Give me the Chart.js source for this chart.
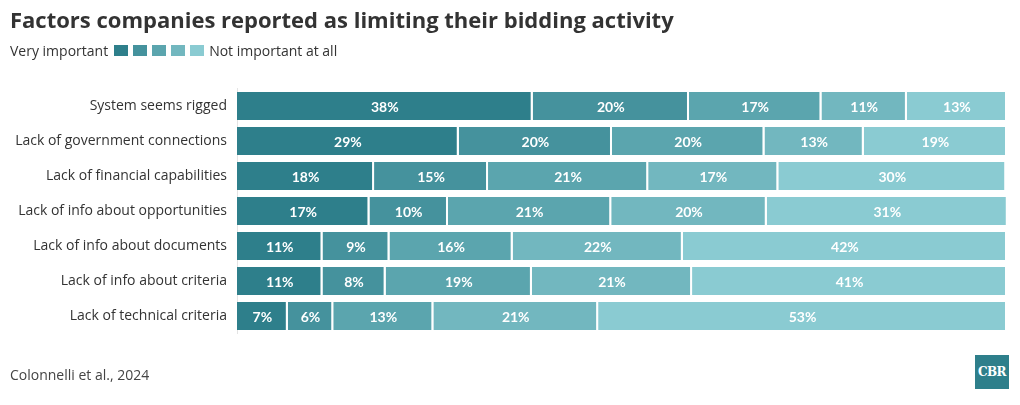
<!DOCTYPE html>
<html>
<head>
<meta charset="utf-8">
<script src="https://cdn.jsdelivr.net/npm/chart.js@4"></script>
<style>
  body { margin: 0; background: #fff; font-family: "Open Sans", sans-serif; color: #333; }
  #wrap { position: relative; width: 1020px; height: 405px; }
  #chart { position: absolute; left: 0; top: 0; }
  .title { position: absolute; left: 10px; top: 4px; font-size: 22px; font-weight: 700; color: #333; white-space: nowrap; }
  .legend { position: absolute; left: 10px; top: 41px; font-size: 14px; color: #333; display: flex; align-items: center; }
  .legend .sw { display: inline-block; width: 14px; height: 11px; margin-right: 5px; }
  .legend .sw:last-of-type { margin-right: 2px; }
  .legend .first { margin-right: 6px; }
  .source { position: absolute; left: 10px; top: 365px; font-size: 14px; color: #444; }
  .logo { position: absolute; left: 975px; top: 355px; width: 34px; height: 34px; background: #2e7f8b; color: #fff;
          font-family: "DejaVu Serif", serif; font-weight: 700; font-size: 12px; line-height: 34px; text-align: center; letter-spacing: -0.5px; }
</style>
</head>
<body>
<div id="wrap">
  <canvas id="chart" width="1020" height="405"></canvas>
  <div class="title">Factors companies reported as limiting their bidding activity</div>
  <div class="legend" id="legend"></div>
  <div class="source">Colonnelli et al., 2024</div>
  <div class="logo">CBR</div>
</div>
<script>
const categories = [
  'System seems rigged',
  'Lack of government connections',
  'Lack of financial capabilities',
  'Lack of info about opportunities',
  'Lack of info about documents',
  'Lack of info about criteria',
  'Lack of technical criteria'
];

// share of respondents, from "very important" (level1) to "not important at all" (level5)
const level1 = [38.4, 28.8, 17.8, 17.2, 11.1, 11.1, 6.6];
const level2 = [20.3, 19.9, 14.8, 10.2, 8.7, 8.2, 5.9];
const level3 = [17.2, 19.8, 20.8, 21.2, 16.0, 19.0, 13.0];
const level4 = [11.1, 12.9, 16.9, 20.2, 22.1, 20.8, 21.4];
const level5 = [13.0, 18.6, 29.6, 31.3, 42.1, 40.9, 53.1];

const levelColors = ['#2e7f8b', '#45929d', '#5ba5ae', '#72b7bf', '#8acbd2'];

// legend row
const legend = document.getElementById('legend');
legend.innerHTML = '<span class="first">Very important</span>' +
  levelColors.map(c => '<span class="sw" style="background:' + c + '"></span>').join('') +
  '<span>Not important at all</span>';

// white percent labels in the middle of each segment
const barLabels = {
  id: 'barLabels',
  afterDatasetsDraw(chart) {
    const c = chart.ctx;
    c.save();
    c.fillStyle = '#fff';
    c.font = '700 14px Lato, "Open Sans", sans-serif';
    c.textAlign = 'center';
    c.textBaseline = 'middle';
    chart.data.datasets.forEach((ds, i) => {
      chart.getDatasetMeta(i).data.forEach((bar, j) => {
        const x = (bar.x + bar.base) / 2;
        c.fillText(Math.round(ds.data[j]) + '%', x, bar.y + 1);
      });
    });
    c.restore();
  }
};

const makeSet = (data, i) => ({
  data: data,
  backgroundColor: levelColors[i],
  borderColor: '#fff',
  borderWidth: { top: 0, bottom: 0, left: 0, right: 2 },
  borderSkipped: false,
  barPercentage: 0.8,
  categoryPercentage: 1.0
});

new Chart(document.getElementById('chart'), {
  type: 'bar',
  data: {
    labels: categories,
    datasets: [level1, level2, level3, level4, level5].map(makeSet)
  },
  options: {
    indexAxis: 'y',
    responsive: false,
    animation: false,
    layout: { padding: { top: 88.5, bottom: 71.5, left: 0, right: 13 } },
    plugins: { legend: { display: false }, tooltip: { enabled: false } },
    scales: {
      x: {
        stacked: true,
        min: 0,
        max: 100,
        display: false
      },
      y: {
        stacked: true,
        grid: { display: false, drawTicks: false },
        border: { display: true, color: '#e4e4e4', width: 1 },
        ticks: {
          color: '#333',
          padding: 10,
          font: { family: '"Open Sans", sans-serif', size: 14 }
        },
        afterFit(axis) { axis.width = 237; }
      }
    }
  },
  plugins: [barLabels]
});
</script>
</body>
</html>
